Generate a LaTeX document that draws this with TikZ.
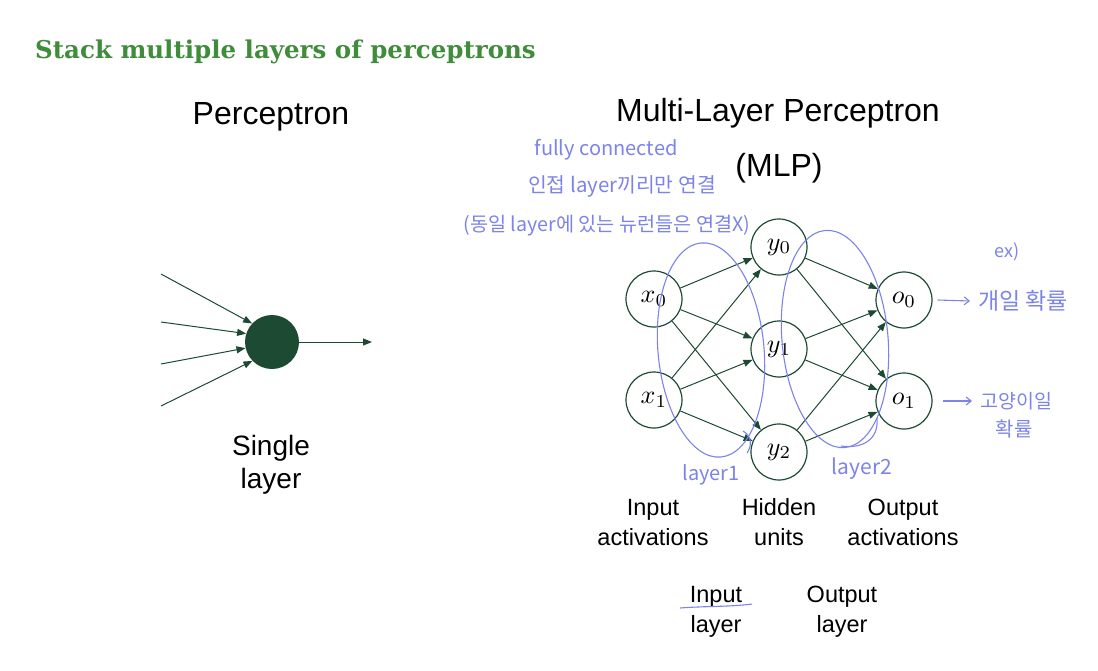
\documentclass[tikz,border=0pt]{standalone}
\usepackage{fontspec}
\newfontfamily\arialf{Liberation Sans}
\newfontfamily\titlef{DejaVu Serif}
\newfontfamily\krf{Noto Sans CJK KR}
\usetikzlibrary{arrows.meta}
\definecolor{nngreen}{HTML}{1D4A32}
\definecolor{titlegreen}{HTML}{3F8C3A}
\definecolor{pen}{HTML}{7C84EA}
\newcommand{\nlab}[1]{\scalebox{2.6}{$#1$}}
\tikzset{
  neuron/.style={circle, draw=nngreen, line width=1.2pt, fill=white, minimum size=56pt, inner sep=0pt},
  conn/.style={draw=nngreen, line width=1pt, -{Triangle[length=9pt,width=7pt]}},
  bigsans/.style={font=\arialf\fontsize{32}{36}\selectfont, anchor=base, inner sep=0pt},
  midsans/.style={font=\arialf\fontsize{28}{32}\selectfont, anchor=base, inner sep=0pt},
  lbl/.style={font=\arialf\fontsize{23.5}{28}\selectfont, anchor=base, inner sep=0pt},
  pentext/.style={text=pen, font=\krf\fontsize{20}{24}\selectfont, inner sep=0pt},
  penline/.style={draw=pen, line width=1.1pt},
  penarrow/.style={draw=pen, line width=1.1pt, -{Straight Barb[length=5pt,width=8pt]}},
}
\begin{document}
\begin{tikzpicture}[x=1pt,y=-1pt]
\fill[white] (0,0) rectangle (1098,670);
\useasboundingbox (0,0) rectangle (1098,670);

% title
\node[anchor=base west, inner sep=0pt, text=titlegreen, font=\titlef\bfseries\fontsize{24.5}{28}\selectfont] (title) at (35,58) {Stack multiple layers of perceptrons};

% ---------------- Perceptron ----------------
\node[bigsans] (ptitle) at (271,124) {Perceptron};
\node[circle, fill=nngreen, minimum size=54pt, inner sep=0pt] (p) at (272,342) {};
\coordinate (i1) at (161,274);
\coordinate (i2) at (161,322);
\coordinate (i3) at (161,364);
\coordinate (i4) at (161,406);
\coordinate (pout) at (372,342);
\draw[conn] (i1) -- (p.137);
\draw[conn] (i2) -- (p.162);
\draw[conn] (i3) -- (p.193);
\draw[conn] (i4) -- (p.224);
\draw[conn] (p.east) -- (pout);
\node[midsans] (single1) at (271,455) {Single};
\node[midsans] (single2) at (271,488) {layer};

% ---------------- MLP ----------------
\node[bigsans] (mtitle) at (778,121) {Multi-Layer Perceptron};
\node[bigsans] (mlp) at (779,176) {(MLP)};

\node[neuron] (x0) at (654,299) {\nlab{x_0}};
\node[neuron] (x1) at (654,400) {\nlab{x_1}};
\node[neuron] (y0) at (779,247) {\nlab{y_0}};
\node[neuron] (y1) at (779,349) {\nlab{y_1}};
\node[neuron] (y2) at (779,452) {\nlab{y_2}};
\node[neuron] (o0) at (904,300) {\nlab{o_0}};
\node[neuron] (o1) at (904,401) {\nlab{o_1}};

\foreach \a in {x0,x1}{\foreach \b in {y0,y1,y2}{\draw[conn] (\a) -- (\b);}}
\foreach \a in {y0,y1,y2}{\foreach \b in {o0,o1}{\draw[conn] (\a) -- (\b);}}

\node[lbl] (ia1) at (653,515) {Input};
\node[lbl] (ia2) at (653,545) {activations};
\node[lbl] (hu1) at (779,515) {Hidden};
\node[lbl] (hu2) at (779,545) {units};
\node[lbl] (oa1) at (903,515) {Output};
\node[lbl] (oa2) at (903,545) {activations};
\node[lbl] (il1) at (716,602) {Input};
\node[lbl] (il2) at (716,632) {layer};
\node[lbl] (ol1) at (842,602) {Output};
\node[lbl] (ol2) at (842,632) {layer};

% ---------------- handwritten notes ----------------
\node[pentext] (fc) at (606,150) {fully connected};
\node[pentext, font=\krf\fontsize{20.4}{24}\selectfont] (adj) at (622,186) {인접 layer끼리만 연결};
\node[pentext, font=\krf\fontsize{19.7}{24}\selectfont] (same) at (607,226) {(동일 layer에 있는 뉴런들은 연결X)};

\draw[penline, rotate around={5.3:(711,350)}] (711,350) ellipse [x radius=53, y radius=107.5];
\draw[penline] (743,431) .. controls (752,436) and (752,446) .. (747,453);
\draw[penline, rotate around={5.2:(835,339)}] (835,339) ellipse [x radius=53, y radius=109];
\draw[penline] (877,418) .. controls (879,440) and (862,449) .. (841,446);
\node[pentext] (l1) at (711,475) {layer1};
\node[pentext, font=\krf\fontsize{21}{24}\selectfont] (l2) at (862,469) {layer2};

\node[pentext, font=\krf\fontsize{18}{20}\selectfont] (ex) at (1007,252) {ex)};
\node[pentext, font=\krf\fontsize{23}{26}\selectfont, anchor=west] (dog) at (978,301) {개일 확률};
\node[pentext, font=\krf\fontsize{19.5}{24}\selectfont, anchor=west] (cat1) at (980,401) {고양이일};
\node[pentext] (cat2) at (1014,429) {확률};
\draw[penarrow] ([xshift=5pt]o0.east) -- ([xshift=-8pt]dog.west);
\draw[penarrow] ([xshift=10pt]o1.east) -- ([xshift=-8pt]cat1.west);

\draw[penline] (680,608) .. controls (705,606) and (730,607) .. (752,604);
\end{tikzpicture}
\end{document}
